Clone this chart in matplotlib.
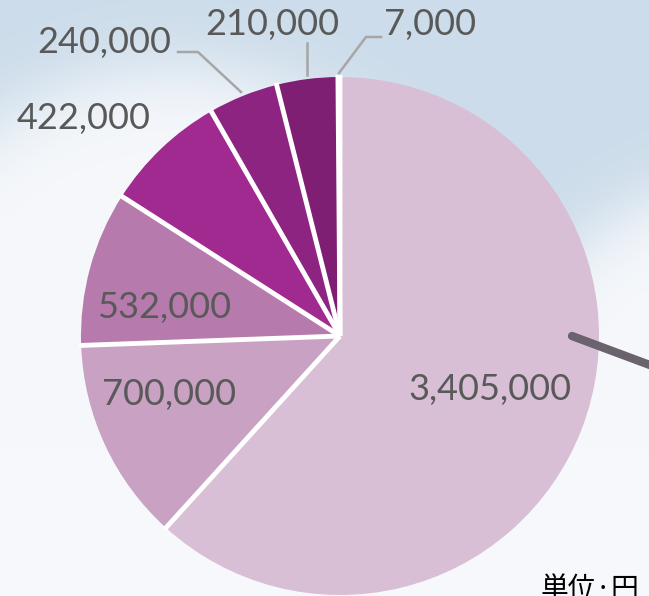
import numpy as np
import matplotlib.pyplot as plt

# 単位:円
values = [3405000, 700000, 532000, 422000, 240000, 210000, 7000]
colors = ['#D8BFD5', '#C8A1C3', '#B67AAD', '#A02A8F', '#8D2482', '#7E1F73', '#D3DFEB']
# label anchor (x center, baseline y from top) in pixels
label_pos = [(490, 400), (169, 405), (164, 318), (84, 129), (104, 53), (272, 35), (430, 35)]

W, H = 649, 596
fig = plt.figure(figsize=(W / 100, H / 100), dpi=100)
ax = fig.add_axes([0, 0, 1, 1])

# sky / cloud background
yy, xx = np.mgrid[0:H, 0:W]


def blob(cx, cy, rx, ry, soft=0.06):
    d = np.sqrt(((xx - cx) / rx) ** 2 + ((yy - cy) / ry) ** 2)
    return 1 / (1 + np.exp((d - 1) / soft))


cloud = np.maximum(blob(175, 430, 335, 360), blob(770, 520, 310, 345))
cloud = np.maximum(cloud, np.clip((yy - 330) / 120, 0, 1))
sky = np.array([204, 220, 234]) / 255
white = np.array([246, 248, 251]) / 255
img = sky * (1 - cloud[..., None]) + white * cloud[..., None]
ax.imshow(img, extent=(0, W, 0, H), origin='upper', zorder=0)

cx, cy, r = 340, H - 336, 259
wedges, _ = ax.pie(values, colors=colors, startangle=90, counterclock=False,
                   center=(cx, cy), radius=r,
                   wedgeprops=dict(edgecolor='none', linewidth=0))

# white separators between slices
for w in wedges:
    t = np.deg2rad(w.theta1)
    ax.plot([cx, cx + (r + 2) * np.cos(t)], [cy, cy + (r + 2) * np.sin(t)],
            color='white', lw=3.5, solid_capstyle='butt', zorder=3)

for v, (x, y) in zip(values, label_pos):
    ax.text(x, H - y, f"{v:,}", ha='center', va='baseline', fontsize=26,
            family='Lato', color='#595959', zorder=5)

# leader lines
lc = '#A6A6A6'
ax.plot([178, 198, 241], [H - 52, H - 52, H - 92], color=lc, lw=1.8, zorder=4)
ax.plot([307, 307], [H - 43, H - 75], color=lc, lw=1.8, zorder=4)
ax.plot([381, 366, 339], [H - 37, H - 37, H - 73], color=lc, lw=1.8, zorder=4)

# pointer
ax.plot([572, 690], [H - 336, H - 380], color='#6A626C', lw=6,
        solid_capstyle='round', zorder=4)

ax.text(541, H - 574, '単位·円', ha='left', va='top', fontsize=20,
        family=['Noto Sans CJK JP', 'DejaVu Sans'], color='black', zorder=5)

ax.set_xlim(0, W)
ax.set_ylim(0, H)
ax.set_aspect('auto')
ax.axis('off')
fig.savefig('out.png', dpi=100)
